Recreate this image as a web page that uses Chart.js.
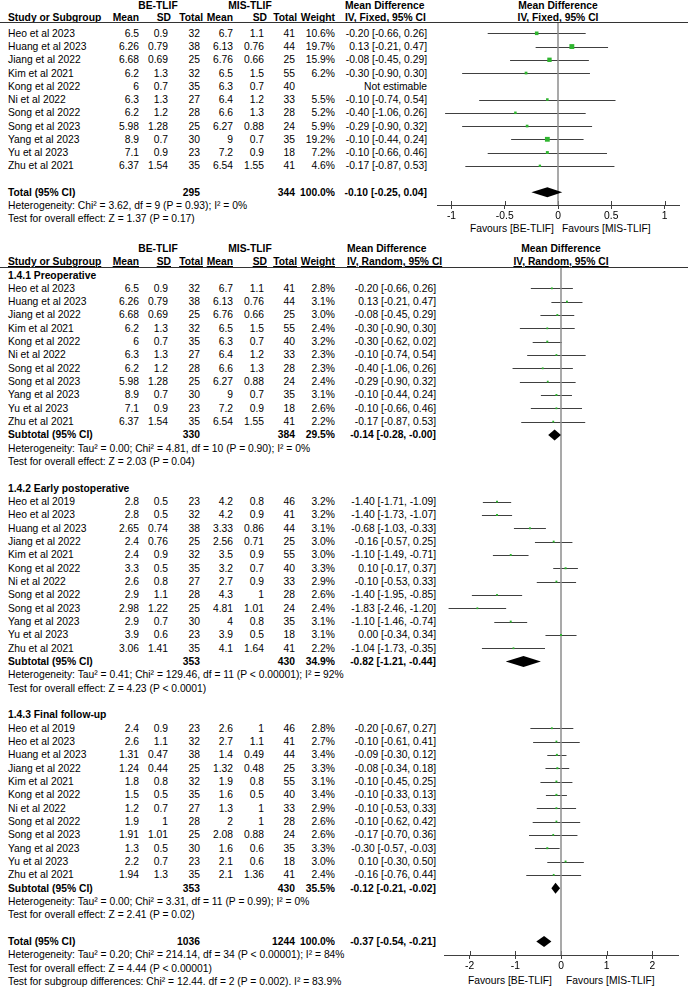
<!DOCTYPE html>
<html>
<head>
<meta charset="utf-8">
<script src="https://cdn.jsdelivr.net/npm/chart.js@4.4.1/dist/chart.umd.min.js"></script>
<style>
body{margin:0;background:#fff;width:688px;height:991px;position:relative;overflow:hidden;font-family:"Liberation Sans",Arial,sans-serif;font-size:10.3px;color:#000}
.t{position:absolute;white-space:nowrap;line-height:13px;height:13px}
.b{font-weight:bold}
.u{text-decoration:underline}
.hl{position:absolute;left:0;width:688px;height:1px;background:#333}
canvas{position:absolute}
</style>
</head>
<body>
<div id="page"></div>
<canvas id="fixedPlot" width="258" height="240" style="left:430px;top:0px"></canvas>
<canvas id="randomPlot" width="251" height="751" style="left:437px;top:240px"></canvas>
<script>
// ---- top panel: IV, Fixed ----
const fxStudy = ["Heo et al 2023","Huang et al 2023","Jiang et al 2022","Kim et al 2021","Kong et al 2022","Ni et al 2022","Song et al 2022","Song et al 2023","Yang et al 2023","Yu et al 2023","Zhu et al 2021"];
const fxMean1 = [6.5, 6.26, 6.68, 6.2, 6, 6.3, 6.2, 5.98, 8.9, 7.1, 6.37];
const fxSd1 = [0.9, 0.79, 0.69, 1.3, 0.7, 1.3, 1.2, 1.28, 0.7, 0.9, 1.54];
const fxN1 = [32, 38, 25, 32, 35, 27, 28, 25, 30, 23, 35];
const fxMean2 = [6.7, 6.13, 6.76, 6.5, 6.3, 6.4, 6.6, 6.27, 9, 7.2, 6.54];
const fxSd2 = [1.1, 0.76, 0.66, 1.5, 0.7, 1.2, 1.3, 0.88, 0.7, 0.9, 1.55];
const fxN2 = [41, 44, 25, 55, 40, 33, 28, 24, 35, 18, 41];
const fxWeight = [10.6, 19.7, 15.9, 6.2, null, 5.5, 5.2, 5.9, 19.2, 7.2, 4.6];
const fxMd = [-0.20, 0.13, -0.08, -0.30, null, -0.10, -0.40, -0.29, -0.10, -0.10, -0.17];
const fxLo = [-0.66, -0.21, -0.45, -0.90, null, -0.74, -1.06, -0.90, -0.44, -0.66, -0.87];
const fxHi = [0.26, 0.47, 0.29, 0.30, null, 0.54, 0.26, 0.32, 0.24, 0.46, 0.53];
const fxTotal = [295, 344, 100.0, -0.10, -0.25, 0.04]; // n1, n2, weight, md, lo, hi
const fxHet = "Heterogeneity: Chi² = 3.62, df = 9 (P = 0.93); I² = 0%";
const fxTest = "Test for overall effect: Z = 1.37 (P = 0.17)";
const fxTicks = [-1, -0.5, 0, 0.5, 1];

// ---- bottom panel: IV, Random ----
const preStudy = ["Heo et al 2023","Huang et al 2023","Jiang et al 2022","Kim et al 2021","Kong et al 2022","Ni et al 2022","Song et al 2022","Song et al 2023","Yang et al 2023","Yu et al 2023","Zhu et al 2021"];
const preMean1 = [6.5, 6.26, 6.68, 6.2, 6, 6.3, 6.2, 5.98, 8.9, 7.1, 6.37];
const preSd1 = [0.9, 0.79, 0.69, 1.3, 0.7, 1.3, 1.2, 1.28, 0.7, 0.9, 1.54];
const preN1 = [32, 38, 25, 32, 35, 27, 28, 25, 30, 23, 35];
const preMean2 = [6.7, 6.13, 6.76, 6.5, 6.3, 6.4, 6.6, 6.27, 9, 7.2, 6.54];
const preSd2 = [1.1, 0.76, 0.66, 1.5, 0.7, 1.2, 1.3, 0.88, 0.7, 0.9, 1.55];
const preN2 = [41, 44, 25, 55, 40, 33, 28, 24, 35, 18, 41];
const preWeight = [2.8, 3.1, 3.0, 2.4, 3.2, 2.3, 2.3, 2.4, 3.1, 2.6, 2.2];
const preMd = [-0.20, 0.13, -0.08, -0.30, -0.30, -0.10, -0.40, -0.29, -0.10, -0.10, -0.17];
const preLo = [-0.66, -0.21, -0.45, -0.90, -0.62, -0.74, -1.06, -0.90, -0.44, -0.66, -0.87];
const preHi = [0.26, 0.47, 0.29, 0.30, 0.02, 0.54, 0.26, 0.32, 0.24, 0.46, 0.53];
const preSub = [330, 384, 29.5, -0.14, -0.28, -0.00];
const preHet = "Heterogeneity: Tau² = 0.00; Chi² = 4.81, df = 10 (P = 0.90); I² = 0%";
const preTest = "Test for overall effect: Z = 2.03 (P = 0.04)";

const earlyStudy = ["Heo et al 2019","Heo et al 2023","Huang et al 2023","Jiang et al 2022","Kim et al 2021","Kong et al 2022","Ni et al 2022","Song et al 2022","Song et al 2023","Yang et al 2023","Yu et al 2023","Zhu et al 2021"];
const earlyMean1 = [2.8, 2.8, 2.65, 2.4, 2.4, 3.3, 2.6, 2.9, 2.98, 2.9, 3.9, 3.06];
const earlySd1 = [0.5, 0.5, 0.74, 0.76, 0.9, 0.5, 0.8, 1.1, 1.22, 0.7, 0.6, 1.41];
const earlyN1 = [23, 32, 38, 25, 32, 35, 27, 28, 25, 30, 23, 35];
const earlyMean2 = [4.2, 4.2, 3.33, 2.56, 3.5, 3.2, 2.7, 4.3, 4.81, 4, 3.9, 4.1];
const earlySd2 = [0.8, 0.9, 0.86, 0.71, 0.9, 0.7, 0.9, 1, 1.01, 0.8, 0.5, 1.64];
const earlyN2 = [46, 41, 44, 25, 55, 40, 33, 28, 24, 35, 18, 41];
const earlyWeight = [3.2, 3.2, 3.1, 3.0, 3.0, 3.3, 2.9, 2.6, 2.4, 3.1, 3.1, 2.2];
const earlyMd = [-1.40, -1.40, -0.68, -0.16, -1.10, 0.10, -0.10, -1.40, -1.83, -1.10, 0.00, -1.04];
const earlyLo = [-1.71, -1.73, -1.03, -0.57, -1.49, -0.17, -0.53, -1.95, -2.46, -1.46, -0.34, -1.73];
const earlyHi = [-1.09, -1.07, -0.33, 0.25, -0.71, 0.37, 0.33, -0.85, -1.20, -0.74, 0.34, -0.35];
const earlySub = [353, 430, 34.9, -0.82, -1.21, -0.44];
const earlyHet = "Heterogeneity: Tau² = 0.41; Chi² = 129.46, df = 11 (P < 0.00001); I² = 92%";
const earlyTest = "Test for overall effect: Z = 4.23 (P < 0.0001)";

const finalStudy = ["Heo et al 2019","Heo et al 2023","Huang et al 2023","Jiang et al 2022","Kim et al 2021","Kong et al 2022","Ni et al 2022","Song et al 2022","Song et al 2023","Yang et al 2023","Yu et al 2023","Zhu et al 2021"];
const finalMean1 = [2.4, 2.6, 1.31, 1.24, 1.8, 1.5, 1.2, 1.9, 1.91, 1.3, 2.2, 1.94];
const finalSd1 = [0.9, 1.1, 0.47, 0.44, 0.8, 0.5, 0.7, 1, 1.01, 0.5, 0.7, 1.3];
const finalN1 = [23, 32, 38, 25, 32, 35, 27, 28, 25, 30, 23, 35];
const finalMean2 = [2.6, 2.7, 1.4, 1.32, 1.9, 1.6, 1.3, 2, 2.08, 1.6, 2.1, 2.1];
const finalSd2 = [1, 1.1, 0.49, 0.48, 0.8, 0.5, 1, 1, 0.88, 0.6, 0.6, 1.36];
const finalN2 = [46, 41, 44, 25, 55, 40, 33, 28, 24, 35, 18, 41];
const finalWeight = [2.8, 2.7, 3.4, 3.3, 3.1, 3.4, 2.9, 2.6, 2.6, 3.3, 3.0, 2.4];
const finalMd = [-0.20, -0.10, -0.09, -0.08, -0.10, -0.10, -0.10, -0.10, -0.17, -0.30, 0.10, -0.16];
const finalLo = [-0.67, -0.61, -0.30, -0.34, -0.45, -0.33, -0.53, -0.62, -0.70, -0.57, -0.30, -0.76];
const finalHi = [0.27, 0.41, 0.12, 0.18, 0.25, 0.13, 0.33, 0.42, 0.36, -0.03, 0.50, 0.44];
const finalSub = [353, 430, 35.5, -0.12, -0.21, -0.02];
const finalHet = "Heterogeneity: Tau² = 0.00; Chi² = 3.31, df = 11 (P = 0.99); I² = 0%";
const finalTest = "Test for overall effect: Z = 2.41 (P = 0.02)";

const rdTotal = [1036, 1244, 100.0, -0.37, -0.54, -0.21];
const rdHet = "Heterogeneity: Tau² = 0.20; Chi² = 214.14, df = 34 (P < 0.00001); I² = 84%";
const rdTest = "Test for overall effect: Z = 4.44 (P < 0.00001)";
const rdSubgroup = "Test for subgroup differences: Chi² = 12.44. df = 2 (P = 0.002). I² = 83.9%";
const rdTicks = [-2, -1, 0, 1, 2];

const groups = [
  {title: "1.4.1 Preoperative", study: preStudy, m1: preMean1, s1: preSd1, n1: preN1, m2: preMean2, s2: preSd2, n2: preN2, w: preWeight, md: preMd, lo: preLo, hi: preHi, sub: preSub, het: preHet, test: preTest},
  {title: "1.4.2 Early postoperative", study: earlyStudy, m1: earlyMean1, s1: earlySd1, n1: earlyN1, m2: earlyMean2, s2: earlySd2, n2: earlyN2, w: earlyWeight, md: earlyMd, lo: earlyLo, hi: earlyHi, sub: earlySub, het: earlyHet, test: earlyTest},
  {title: "1.4.3 Final follow-up", study: finalStudy, m1: finalMean1, s1: finalSd1, n1: finalN1, m2: finalMean2, s2: finalSd2, n2: finalN2, w: finalWeight, md: finalMd, lo: finalLo, hi: finalHi, sub: finalSub, het: finalHet, test: finalTest}
];

// ---- layout ----
const TOP0 = 33.3, TOPSTEP = 13.25;
const BOT0 = 275, BOTSTEP = 13.33;
const topY = i => TOP0 + TOPSTEP * i;
const botY = k => BOT0 + BOTSTEP * k;
const colR = {m1: 139, s1: 168, n1: 200, m2: 233, s2: 264, n2: 295, w: 335};
const headR = {m1: 139, s1: 171, n1: 203, m2: 233, s2: 267, n2: 297, w: 335};

const page = document.getElementById('page');
function put(str, x, y, align, cls) {
  const d = document.createElement('div');
  d.className = 't' + (cls ? ' ' + cls : '');
  d.textContent = str;
  d.style.top = (y - 6.5) + 'px';
  if (align === 'r') { d.style.left = (x - 300) + 'px'; d.style.width = '300px'; d.style.textAlign = 'right'; }
  else if (align === 'c') { d.style.left = (x - 200) + 'px'; d.style.width = '400px'; d.style.textAlign = 'center'; }
  else d.style.left = x + 'px';
  page.appendChild(d);
}
function hline(y) {
  const d = document.createElement('div');
  d.className = 'hl';
  d.style.top = y + 'px';
  page.appendChild(d);
}
const f2 = v => (Object.is(v, -0) ? '-' : '') + v.toFixed(2);
const ci = (m, l, h) => f2(m) + ' [' + f2(l) + ', ' + f2(h) + ']';

function header(y1, y2, ciLeft, plotC, model) {
  put('BE-TLIF', 158, y1, 'c', 'b');
  put('MIS-TLIF', 250, y1, 'c', 'b');
  put('Mean Difference', ciLeft, y1, 'l', 'b');
  put('Mean Difference', plotC, y1, 'c', 'b');
  put('Study or Subgroup', 8, y2, 'l', 'b u');
  put('Mean', headR.m1, y2, 'r', 'b u');
  put('SD', headR.s1, y2, 'r', 'b u');
  put('Total', headR.n1, y2, 'r', 'b u');
  put('Mean', headR.m2, y2, 'r', 'b u');
  put('SD', headR.s2, y2, 'r', 'b u');
  put('Total', headR.n2, y2, 'r', 'b u');
  put('Weight', headR.w, y2, 'r', 'b u');
  put(model, ciLeft, y2, 'l', 'b u');
  put(model, plotC, y2, 'c', 'b u');
}
function studyRow(y, ciR, name, m1, s1, n1, m2, s2, n2, w, md, lo, hi) {
  put(name, 8, y, 'l');
  put(String(m1), colR.m1, y, 'r');
  put(String(s1), colR.s1, y, 'r');
  put(String(n1), colR.n1, y, 'r');
  put(String(m2), colR.m2, y, 'r');
  put(String(s2), colR.s2, y, 'r');
  put(String(n2), colR.n2, y, 'r');
  if (w != null) put(w.toFixed(1) + '%', colR.w, y, 'r');
  put(md == null ? 'Not estimable' : ci(md, lo, hi), ciR, y, 'r');
}
function totalRow(y, ciR, label, t) {
  put(label, 8, y, 'l', 'b');
  put(String(t[0]), colR.n1, y, 'r', 'b');
  put(String(t[1]), colR.n2, y, 'r', 'b');
  put(t[2].toFixed(1) + '%', colR.w, y, 'r', 'b');
  put(ci(t[3], t[4], t[5]), ciR, y, 'r', 'b');
}

// top panel text
header(5.5, 17.5, 345, 558, 'IV, Fixed, 95% CI');
hline(22);
fxStudy.forEach((s, i) => studyRow(topY(i), 427, s, fxMean1[i], fxSd1[i], fxN1[i], fxMean2[i], fxSd2[i], fxN2[i], fxWeight[i], fxMd[i], fxLo[i], fxHi[i]));
totalRow(topY(12), 427, 'Total (95% CI)', fxTotal);
put(fxHet, 8, topY(13), 'l');
put(fxTest, 8, topY(14), 'l');
put('Favours [BE-TLIF]', 554, 228, 'r');
put('Favours [MIS-TLIF]', 562, 228, 'l');

// bottom panel text
header(248, 261.5, 347, 561, 'IV, Random, 95% CI');
hline(267);
const rdPoints = [], rdCis = [], rdDiamonds = [];
let k = 0;
groups.forEach(g => {
  put(g.title, 8, botY(k), 'l', 'b');
  g.study.forEach((s, j) => {
    const row = k + 1 + j;
    studyRow(botY(row), 436, s, g.m1[j], g.s1[j], g.n1[j], g.m2[j], g.s2[j], g.n2[j], g.w[j], g.md[j], g.lo[j], g.hi[j]);
    rdPoints.push({x: g.md[j], y: row, w: g.w[j]});
    rdCis.push({lo: g.lo[j], hi: g.hi[j], row: row});
  });
  const sr = k + 1 + g.study.length;
  totalRow(botY(sr), 436, 'Subtotal (95% CI)', g.sub);
  rdDiamonds.push({md: g.sub[3], lo: g.sub[4], hi: g.sub[5], row: sr});
  put(g.het, 8, botY(sr + 1), 'l');
  put(g.test, 8, botY(sr + 2), 'l');
  k = sr + 4;
});
totalRow(botY(k), 436, 'Total (95% CI)', rdTotal);
rdDiamonds.push({md: rdTotal[3], lo: rdTotal[4], hi: rdTotal[5], row: k});
put(rdHet, 8, botY(k + 1), 'l');
put(rdTest, 8, botY(k + 2), 'l');
put(rdSubgroup, 8, botY(k + 3), 'l');
put('Favours [BE-TLIF]', 552, 980, 'r');
put('Favours [MIS-TLIF]', 566, 980, 'l');

const fxPoints = [], fxCis = [];
fxStudy.forEach((s, i) => {
  if (fxMd[i] == null) return;
  fxPoints.push({x: fxMd[i], y: i, w: fxWeight[i]});
  fxCis.push({lo: fxLo[i], hi: fxHi[i], row: i});
});
const fxDiamonds = [{md: fxTotal[3], lo: fxTotal[4], hi: fxTotal[5], row: 12}];

// ---- forest plots ----
function forest(id, o) {
  const marks = {
    id: 'marks',
    beforeDatasetsDraw(chart) {
      const {ctx, chartArea: a, scales: {x, y}} = chart;
      ctx.save();
      ctx.strokeStyle = '#404040';
      ctx.lineWidth = 1;
      o.ticks.forEach(v => {
        const px = Math.round(x.getPixelForValue(v)) + 0.5;
        ctx.beginPath(); ctx.moveTo(px, a.bottom - 4); ctx.lineTo(px, a.bottom); ctx.stroke();
      });
      o.cis.forEach(c => {
        const py = Math.round(y.getPixelForValue(c.row)) + 0.5;
        ctx.beginPath(); ctx.moveTo(x.getPixelForValue(c.lo), py); ctx.lineTo(x.getPixelForValue(c.hi), py); ctx.stroke();
      });
      const x0 = x.getPixelForValue(0);
      ctx.strokeStyle = '#8c8c8c';
      ctx.lineWidth = 1.5;
      ctx.beginPath(); ctx.moveTo(x0, a.top); ctx.lineTo(x0, a.bottom); ctx.stroke();
      ctx.restore();
    },
    afterDatasetsDraw(chart) {
      const {ctx, scales: {x, y}} = chart;
      ctx.save();
      ctx.fillStyle = '#000';
      o.diamonds.forEach(d => {
        const py = y.getPixelForValue(d.row);
        ctx.beginPath();
        ctx.moveTo(x.getPixelForValue(d.lo), py);
        ctx.lineTo(x.getPixelForValue(d.md), py - o.dh);
        ctx.lineTo(x.getPixelForValue(d.hi), py);
        ctx.lineTo(x.getPixelForValue(d.md), py + o.dh);
        ctx.closePath();
        ctx.fill();
      });
      ctx.restore();
    }
  };
  const radii = o.points.map(p => Math.max(1.8, 1.1 * Math.sqrt(p.w)) / Math.SQRT2);
  return new Chart(document.getElementById(id), {
    type: 'scatter',
    data: {datasets: [{
      data: o.points.map(p => ({x: p.x, y: p.y})),
      pointStyle: 'rect',
      pointRadius: radii,
      pointHoverRadius: radii,
      pointBackgroundColor: '#2fb52f',
      pointBorderWidth: 0
    }]},
    options: {
      responsive: false,
      animation: false,
      events: [],
      layout: {padding: o.padding},
      plugins: {legend: {display: false}, tooltip: {enabled: false}},
      scales: {
        x: {
          type: 'linear', min: -o.range, max: o.range,
          afterBuildTicks: s => { s.ticks = o.ticks.map(v => ({value: v})); },
          afterFit: s => { s.height = o.axisH; },
          ticks: {color: '#000', padding: 1, maxRotation: 0, autoSkip: false,
                  font: {family: '"Liberation Sans", Arial, sans-serif', size: 10.3},
                  callback: v => String(v)},
          grid: {display: true, drawOnChartArea: false, drawTicks: true, tickLength: 4, color: '#404040', lineWidth: 1},
          border: {display: true, color: '#404040', width: 1}
        },
        y: {type: 'linear', display: false, reverse: true, min: o.rowMin, max: o.rowMax}
      }
    },
    plugins: [marks]
  });
}

forest('fixedPlot', {
  points: fxPoints, cis: fxCis, diamonds: fxDiamonds, ticks: fxTicks,
  range: 1.136, rowMin: (23 - TOP0) / TOPSTEP, rowMax: (205 - TOP0) / TOPSTEP,
  padding: {left: 7, right: 9, top: 23, bottom: 0}, axisH: 35, dh: 5
});
forest('randomPlot', {
  points: rdPoints, cis: rdCis, diamonds: rdDiamonds, ticks: rdTicks,
  range: 2.56, rowMin: (268 - BOT0) / BOTSTEP, rowMax: (955 - BOT0) / BOTSTEP,
  padding: {left: 7, right: 10, top: 28, bottom: 0}, axisH: 36, dh: 5.5
});
</script>
</body>
</html>
